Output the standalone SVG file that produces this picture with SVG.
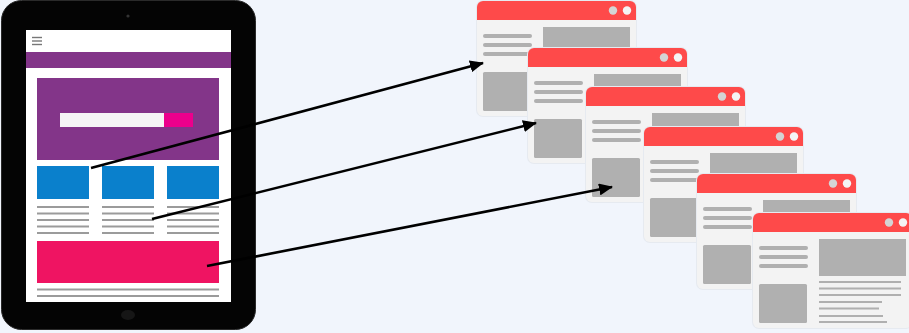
<svg xmlns="http://www.w3.org/2000/svg" xmlns:xlink="http://www.w3.org/1999/xlink" width="909" height="333" viewBox="0 0 909 333">
<style>
.tl{stroke:#9b9b9b;stroke-width:2.2}
.wl{stroke:#b0b0b0;stroke-width:4;stroke-linecap:round}
.wt{stroke:#b0b0b0;stroke-width:2}
.blk{fill:#b0b0b0}
.conn{stroke:#000;stroke-width:2.6;fill:none}
</style>
<defs>
<marker id="ah" markerWidth="14" markerHeight="12" refX="13" refY="6" orient="auto" markerUnits="userSpaceOnUse">
<path d="M0,0 L14,6 L0,12 Z" fill="#000"/>
</marker>
<g id="win">
<rect x="-1" y="-1" width="161" height="117" rx="7" fill="#e6eaf0"/>
<rect x="0" y="0" width="159" height="115" rx="6" fill="#f3f3f3"/>
<path d="M0,19 V6 A6,6 0 0 1 6,0 H153 A6,6 0 0 1 159,6 V19 Z" fill="#fe4a4a"/>
<circle cx="136" cy="9.5" r="4.2" fill="#d4d4d4"/>
<circle cx="150" cy="9.5" r="4.2" fill="#f4f4f4"/>
<line class="wl" x1="8" y1="35" x2="53" y2="35"/>
<line class="wl" x1="8" y1="44" x2="53" y2="44"/>
<line class="wl" x1="8" y1="53" x2="53" y2="53"/>
<rect class="blk" x="6" y="71" width="48" height="39" rx="1.5"/>
<rect class="blk" x="66" y="26" width="87" height="37"/>
</g>
</defs>
<rect width="909" height="333" fill="#f1f5fc"/>
<g id="tablet">
<rect x="1.5" y="0.5" width="254" height="329" rx="20" fill="#040404" stroke="#2a2a2a" stroke-width="1"/>
<circle cx="128" cy="16" r="1.6" fill="#333"/>
<ellipse cx="128" cy="315" rx="7" ry="5" fill="#161616"/>
<rect x="26" y="30" width="205" height="272" fill="#ffffff"/>
<g stroke="#777" stroke-width="1.4">
<line x1="32" y1="37.5" x2="42" y2="37.5"/>
<line x1="32" y1="41" x2="42" y2="41"/>
<line x1="32" y1="44.5" x2="42" y2="44.5"/>
</g>
<rect x="26" y="52" width="205" height="16" fill="#833589"/>
<rect x="37" y="78" width="182" height="82" fill="#833589"/>
<rect x="60" y="113" width="104" height="14" fill="#f5f5f5"/>
<rect x="164" y="113" width="29" height="14" fill="#ec008c"/>
<rect x="37" y="166" width="52" height="33" fill="#0a80cc"/>
<rect x="102" y="166" width="52" height="33" fill="#0a80cc"/>
<rect x="167" y="166" width="52" height="33" fill="#0a80cc"/>
<g class="tl">
<line x1="37" y1="207" x2="89" y2="207"/><line x1="37" y1="213.5" x2="89" y2="213.5"/><line x1="37" y1="220" x2="89" y2="220"/><line x1="37" y1="226.5" x2="89" y2="226.5"/><line x1="37" y1="233" x2="89" y2="233"/>
<line x1="102" y1="207" x2="154" y2="207"/><line x1="102" y1="213.5" x2="154" y2="213.5"/><line x1="102" y1="220" x2="154" y2="220"/><line x1="102" y1="226.5" x2="154" y2="226.5"/><line x1="102" y1="233" x2="154" y2="233"/>
<line x1="167" y1="207" x2="219" y2="207"/><line x1="167" y1="213.5" x2="219" y2="213.5"/><line x1="167" y1="220" x2="219" y2="220"/><line x1="167" y1="226.5" x2="219" y2="226.5"/><line x1="167" y1="233" x2="219" y2="233"/>
<line x1="37" y1="289.5" x2="219" y2="289.5"/><line x1="37" y1="296" x2="219" y2="296"/>
</g>
<rect x="37" y="241" width="182" height="42" fill="#ef1462"/>
</g>
<g id="window1"><use xlink:href="#win" transform="translate(477,1)"/></g>
<g id="window2"><use xlink:href="#win" transform="translate(528,48)"/></g>
<g id="window3"><use xlink:href="#win" transform="translate(586,87)"/></g>
<g id="window4"><use xlink:href="#win" transform="translate(644,127)"/></g>
<g id="window5"><use xlink:href="#win" transform="translate(697,174)"/></g>
<g id="window6"><use xlink:href="#win" transform="translate(753,213)"/>
<g class="wt">
<line x1="819" y1="282" x2="901" y2="282"/>
<line x1="819" y1="288.5" x2="901" y2="288.5"/>
<line x1="819" y1="295" x2="901" y2="295"/>
<line x1="819" y1="302" x2="882" y2="302"/>
<line x1="819" y1="308.5" x2="879" y2="308.5"/>
<line x1="819" y1="316" x2="883" y2="316"/>
<line x1="819" y1="322" x2="887" y2="322"/>
</g>
</g>
<g id="connectors">
<line class="conn" x1="91" y1="168" x2="483" y2="63" marker-end="url(#ah)"/>
<line class="conn" x1="152" y1="219" x2="536" y2="123" marker-end="url(#ah)"/>
<line class="conn" x1="207" y1="266" x2="612" y2="187" marker-end="url(#ah)"/>
</g>
</svg>
